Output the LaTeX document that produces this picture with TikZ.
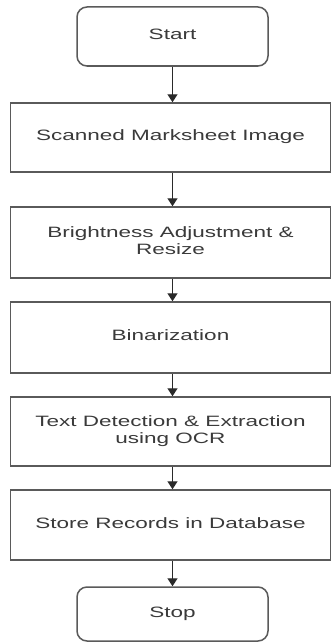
\documentclass[tikz,border=0pt]{standalone}
\usepackage{fontspec}
\setmainfont{Liberation Sans}
\usetikzlibrary{arrows.meta}
\definecolor{edgec}{HTML}{5A5A5A}
\definecolor{txtc}{HTML}{3A3A3A}
\definecolor{arrc}{HTML}{2A2A2A}
\newcommand{\wtext}[1]{\scalebox{1.5}[1]{\begin{tabular}{@{}c@{}}#1\end{tabular}}}
\tikzset{
  procbox/.style={draw=edgec, line width=1.5pt, minimum width=320pt, minimum height=69pt,
    inner sep=0pt, text=txtc, font=\fontsize{15}{17}\selectfont},
  termbox/.style={procbox, rounded corners=10pt, minimum width=191pt, minimum height=59pt},
  flowarrow/.style={draw=arrc, line width=1.4pt, -{Triangle[length=8pt,width=10pt]}}
}
\begin{document}
\begin{tikzpicture}[x=1pt,y=-1pt]
\useasboundingbox[fill=white] (0,0) rectangle (331,642);
\node[termbox] (start) at (172.5,36.5) {\wtext{Start}};
\node[procbox] (b1) at (170.5,137.5) {\wtext{Scanned Marksheet Image}};
\node[procbox, minimum height=71pt] (b2) at (170.5,242.5) {\wtext{Brightness Adjustment \&\\Resize}};
\node[procbox, minimum height=71pt] (b3) at (170.5,337.5) {\wtext{Binarization}};
\node[procbox] (b4) at (170.5,431.5) {\wtext{Text Detection \& Extraction\\using OCR}};
\node[procbox, minimum height=70pt] (b5) at (170.5,525) {\wtext{Store Records in Database}};
\node[termbox, minimum height=54pt] (stop) at (172.5,614) {\wtext{Stop}};
\draw[flowarrow] (start.south) -- (start.south |- b1.north);
\draw[flowarrow] (start.south |- b1.south) -- (start.south |- b2.north);
\draw[flowarrow] (start.south |- b2.south) -- (start.south |- b3.north);
\draw[flowarrow] (start.south |- b3.south) -- (start.south |- b4.north);
\draw[flowarrow] (start.south |- b4.south) -- (start.south |- b5.north);
\draw[flowarrow] (start.south |- b5.south) -- (stop.north);
\end{tikzpicture}
\end{document}
